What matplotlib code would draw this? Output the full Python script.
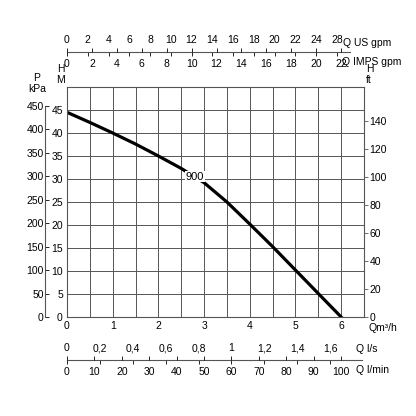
import matplotlib
matplotlib.use("Agg")
import matplotlib.pyplot as plt
import numpy as np

plt.rcParams['font.family'] = ['Liberation Sans Narrow', 'Liberation Sans', 'DejaVu Sans']
plt.rcParams['font.size'] = 7.5

q_m3h = [0, 0.5, 1, 1.5, 2, 2.5, 3, 3.5, 4, 4.5, 5, 5.5, 6]
h_m = [44.5, 42.3, 40.0, 37.6, 35.0, 32.3, 29.2, 25.0, 20.2, 15.3, 10.2, 5.1, 0]
curve_label = "900"

us_ticks = [0, 2, 4, 6, 8, 10, 12, 14, 16, 18, 20, 22, 24, 26]
us_labels = ["0", "2", "4", "6", "8", "10", "12", "14", "16", "18", "20", "22", "24", "28"]
imp_ticks = [0, 2, 4, 6, 8, 10, 12, 14, 16, 18, 20, 22]
ls_ticks = [0, 0.2, 0.4, 0.6, 0.8, 1, 1.2, 1.4, 1.6]
ls_labels = ["0", "0,2", "0,4", "0,6", "0,8", "1", "1,2", "1,4", "1,6"]
lmin_ticks = [0, 10, 20, 30, 40, 50, 60, 70, 80, 90, 100]
kpa_ticks = [0, 50, 100, 150, 200, 250, 300, 350, 400, 450]
ft_ticks = [0, 20, 40, 60, 80, 100, 120, 140]

QMAX, HMAX = 6.5, 50
W = 416
fig = plt.figure(figsize=(4.16, 4.16), dpi=100)
L, R, B, T = 67/W, 364/W, 1-317/W, 1-87/W
ax = fig.add_axes([L, B, R-L, T-B])
ax.set_xlim(0, QMAX); ax.set_ylim(0, HMAX)
ax.set_xticks(np.arange(0, 6.51, 0.5))
ax.set_xticklabels([str(int(v)) if v == int(v) else "" for v in np.arange(0, 6.51, 0.5)])
ax.set_yticks(np.arange(0, 46, 5))
ax.grid(True, color='#555555', lw=0.7)
ax.tick_params(length=0, pad=3, labelsize=7.5)
for s in ax.spines.values():
    s.set_color('#555555'); s.set_linewidth(0.8)
ax.plot(q_m3h, h_m, color='black', lw=2.3)
ax.text(2.8, 30.5, curve_label, ha='center', va='center', fontsize=8,
        bbox=dict(facecolor='white', edgecolor='none', pad=0.5))
ax.text(6.6, -1.3, "Qm³/h", ha='left', va='top', fontsize=7.5)
ax.text(-0.05, 50.5, "H\nM", ha='right', va='bottom', fontsize=7.5, linespacing=1.1)

ax2 = ax.twinx()
ax2.set_ylim(0, HMAX/0.3048)
ax2.set_yticks(ft_ticks)
ax2.tick_params(length=3, width=0.6, labelsize=7.5, color='#555555', direction='out', pad=1)
for s in ax2.spines.values():
    s.set_visible(False)
ax.text(6.55, 50.5, "H\nft", ha='left', va='bottom', fontsize=7.5, linespacing=1.1)

# kPa axis
axp = fig.add_axes([45/W, B, 0.0001, T-B])
axp.set_ylim(0, HMAX*9.80665)
axp.set_xticks([])
axp.set_yticks(kpa_ticks)
for k in ['top', 'right', 'bottom']:
    axp.spines[k].set_visible(False)
axp.spines['left'].set_bounds(0, 450)
axp.spines['left'].set_color('#555555')
axp.tick_params(axis='y', direction='in', length=3, width=0.6, pad=1, labelsize=7.5)
axp.patch.set_visible(False)
fig.text(37/W, 1-(94/W), "P\nkPa", ha='center', va='bottom', fontsize=7.5, linespacing=1.1)


def flow_axis(y_px, xmax, ticks, labels, top, bound):
    a = fig.add_axes([L, 1-y_px/W, R-L, 0.0001])
    a.set_xlim(0, xmax)
    a.set_yticks([])
    for k in ['top', 'left', 'right', 'bottom']:
        a.spines[k].set_visible(False)
    a.patch.set_visible(False)
    a.set_xticks(ticks)
    a.set_xticklabels(labels)
    if top:
        a.tick_params(axis='x', top=True, bottom=False, labeltop=True, labelbottom=False,
                      direction='in', length=3, width=0.6, pad=5, labelsize=7.5)
        a.spines['bottom'].set_visible(True)
        a.spines['bottom'].set_bounds(0, bound)
        a.spines['bottom'].set_color('#555555')
    else:
        a.tick_params(axis='x', top=False, bottom=True, labeltop=False, labelbottom=True,
                      direction='in', length=3, width=0.6, pad=5, labelsize=7.5)
    return a


flow_axis(52, QMAX*4.40287, us_ticks, us_labels, True, 6.2*4.40287)
flow_axis(52, QMAX*3.66615, imp_ticks, [str(v) for v in imp_ticks], False, None)
flow_axis(360, QMAX/3.6, ls_ticks, ls_labels, True, 6.45/3.6)
flow_axis(360, QMAX/0.06, lmin_ticks, [str(v) for v in lmin_ticks], False, None)

fig.text(343/W, 1-43/W, "Q US gpm", ha='left', va='center', fontsize=7.5)
fig.text(342/W, 1-62/W, "Q IMPS gpm", ha='left', va='center', fontsize=7.5)
fig.text(356/W, 1-349/W, "Q l/s", ha='left', va='center', fontsize=7.5)
fig.text(356/W, 1-370/W, "Q l/min", ha='left', va='center', fontsize=7.5)

fig.savefig("out.png", dpi=100)
